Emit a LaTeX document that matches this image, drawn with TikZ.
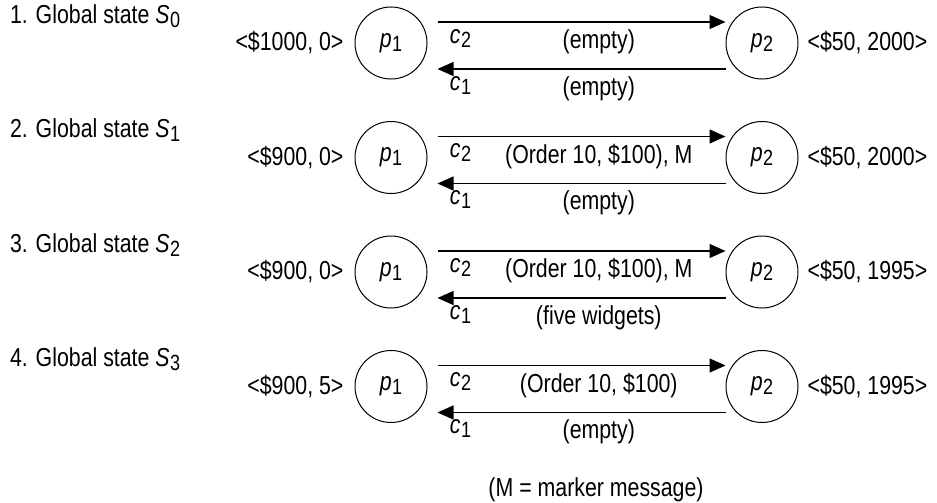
\documentclass[tikz,border=0pt]{standalone}
\usepackage{fontspec}
\setmainfont{Liberation Sans}[FakeStretch=0.82]
\usetikzlibrary{arrows.meta,positioning}
\newcommand\ix[2]{\textit{#1}\kern0.2pt\raisebox{-0.3ex}{\fontsize{11}{11}\selectfont#2}}

\begin{document}
\begin{tikzpicture}[x=0.5pt,y=-0.5pt,
    every node/.style={font=\fontsize{13}{15}\selectfont},
    proc/.style={draw,circle,line width=0.5pt,minimum size=36pt,inner sep=0pt},
    chan/.style={line width=0.6pt,-{Triangle[length=8pt,width=7pt]}}]
    \useasboundingbox (0,0) rectangle (937,503);
    \foreach \i/\pa/\pb/\msgtop/\msgbot in {
        0/{<\$1000, 0>}/{<\$50, 2000>}/{(empty)}/{(empty)},
        1/{<\$900, 0>}/{<\$50, 2000>}/{(Order 10, \$100), M}/{(empty)},
        2/{<\$900, 0>}/{<\$50, 1995>}/{(Order 10, \$100), M}/{(five widgets)},
        3/{<\$900, 5>}/{<\$50, 1995>}/{(Order 10, \$100)}/{(empty)}
    } {
        \pgfmathtruncatemacro\n{\i+1}
        \node[anchor=west] (title\i) at (3, 16+114.5*\i) {\n. Global state \ix{S}{\i}};
        \node[proc] (pa\i) at (391, 43+114.5*\i) {\ix{p}{1}};
        \node[proc] (pb\i) at (762, 43+114.5*\i) {\ix{p}{2}};
        \node[left=2pt of pa\i] (sa\i) {\pa};
        \node[right=1pt of pb\i] (sb\i) {\pb};
        \draw[chan] ([xshift=5pt,yshift=10.5pt]pa\i.east)
            -- node[below,pos=0.08] {\ix{c}{2}} node[below,pos=0.56] {\msgtop}
            ([yshift=10.5pt]pb\i.west);
        \draw[chan] ([yshift=-13pt]pb\i.west)
            -- node[below,pos=0.92] {\ix{c}{1}} node[below,pos=0.44] {\msgbot}
            ([xshift=5pt,yshift=-13pt]pa\i.east);
    }
    \node (note) at (596, 490) {(M = marker message)};
\end{tikzpicture}
\end{document}
